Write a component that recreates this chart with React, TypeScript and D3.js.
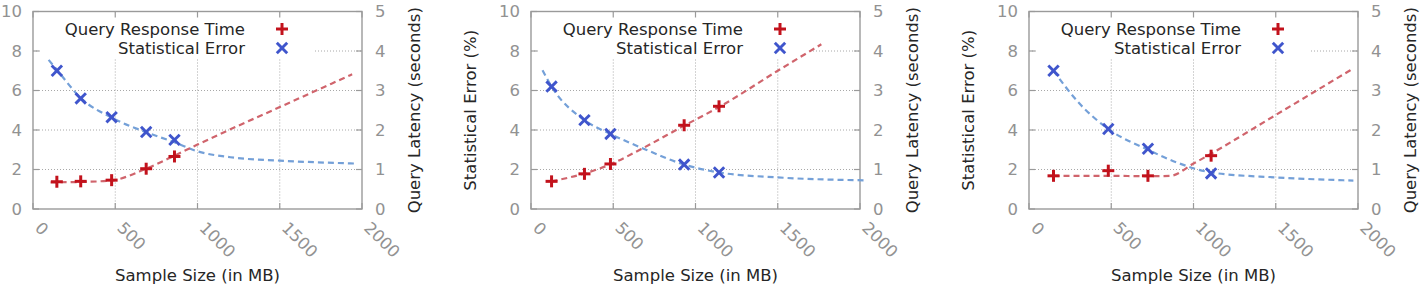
import React from "react";
import * as d3 from "d3";

// ---------- data ----------
const xTicks = [0, 500, 1000, 1500, 2000];
const yLeftTicks = [0, 2, 4, 6, 8, 10];
const yRightTicks = [0, 1, 2, 3, 4, 5];
const gridX = [500, 1000, 1500];
const gridY = [2, 4, 6, 8];

const legendLabels = ["Query Response Time", "Statistical Error"];
const xTitle = "Sample Size (in MB)";
const leftTitle = "Statistical Error (%)";
const rightTitle = "Query Latency (seconds)";

// panel 1
const p1Sizes = [145, 290, 478, 688, 860];
const p1Error = [7.0, 5.6, 4.65, 3.9, 3.5];
const p1Latency = [0.69, 0.7, 0.73, 1.02, 1.33];
const p1ErrFitX = [95, 150, 290, 480, 690, 860, 1000, 1200, 1500, 1970];
const p1ErrFitY = [7.55, 7.0, 5.62, 4.62, 3.88, 3.38, 2.92, 2.62, 2.45, 2.3];
const p1LatFitX = [107, 300, 480, 690, 860, 1000, 1165, 1500, 1940];
const p1LatFitY = [0.675, 0.685, 0.725, 1.025, 1.35, 1.63, 1.95, 2.58, 3.41];

// panel 2
const p2Sizes = [125, 325, 483, 931, 1143];
const p2Error = [6.2, 4.5, 3.8, 2.25, 1.85];
const p2Latency = [0.7, 0.89, 1.14, 2.12, 2.6];
const p2ErrFitX = [70, 125, 325, 483, 700, 931, 1143, 1500, 2030];
const p2ErrFitY = [7.03, 6.2, 4.5, 3.8, 3.0, 2.25, 1.85, 1.6, 1.45];
const p2LatFitX = [125, 325, 483, 671, 931, 1143, 1500, 1765];
const p2LatFitY = [0.7, 0.9, 1.13, 1.52, 2.11, 2.58, 3.5, 4.17];

// panel 3
const p3Sizes = [149, 482, 723, 1107];
const p3Error = [7.0, 4.05, 3.05, 1.8];
const p3Latency = [0.84, 0.97, 0.84, 1.35];
const p3ErrFitX = [149, 300, 482, 723, 900, 1107, 1500, 1972];
const p3ErrFitY = [7.0, 5.4, 4.05, 3.0, 2.35, 1.85, 1.6, 1.44];
const p3LatFitX = [149, 482, 723, 860, 1000, 1107, 1500, 1972];
const p3LatFitY = [0.835, 0.84, 0.83, 0.84, 1.15, 1.4, 2.38, 3.56];

const panels = [
  { sizes: p1Sizes, err: p1Error, lat: p1Latency, efx: p1ErrFitX, efy: p1ErrFitY, lfx: p1LatFitX, lfy: p1LatFitY, showLeftTitle: false },
  { sizes: p2Sizes, err: p2Error, lat: p2Latency, efx: p2ErrFitX, efy: p2ErrFitY, lfx: p2LatFitX, lfy: p2LatFitY, showLeftTitle: true },
  { sizes: p3Sizes, err: p3Error, lat: p3Latency, efx: p3ErrFitX, efy: p3ErrFitY, lfx: p3LatFitX, lfy: p3LatFitY, showLeftTitle: true },
];

// ---------- style ----------
const W = 1420;
const H = 306;
const FONT = "'DejaVu Sans', sans-serif";
const FS = 16.5;
const TICK_COLOR = "#929292";
const TEXT_COLOR = "#262626";
const BORDER = "#9a9a9a";
const GRID = "#a8a8a8";
const RED = "#c2121c";
const RED_LINE = "#d0646c";
const BLUE = "#3f55cc";
const BLUE_LINE = "#74a0d8";

const PLOT_W = 329;
const TOP = 11.5;
const BOTTOM = 209;
const STEP = 498;
const FIRST_LEFT = 33;

function Plus({ x, y }: { x: number; y: number }) {
  const s = 6;
  return (
    <g stroke={RED} strokeWidth={3} strokeLinecap="butt">
      <line x1={x - s} y1={y} x2={x + s} y2={y} />
      <line x1={x} y1={y - s} x2={x} y2={y + s} />
    </g>
  );
}

function Cross({ x, y }: { x: number; y: number }) {
  const s = 5.2;
  return (
    <g stroke={BLUE} strokeWidth={2.9} strokeLinecap="butt">
      <line x1={x - s} y1={y - s} x2={x + s} y2={y + s} />
      <line x1={x - s} y1={y + s} x2={x + s} y2={y - s} />
    </g>
  );
}

function Panel({ idx }: { idx: number }) {
  const p = panels[idx];
  const left = FIRST_LEFT + idx * STEP;
  const right = left + PLOT_W;
  const x = d3.scaleLinear().domain([0, 2000]).range([left, right]);
  const yL = d3.scaleLinear().domain([0, 10]).range([BOTTOM, TOP]);
  const yR = d3.scaleLinear().domain([0, 5]).range([BOTTOM, TOP]);

  const errLine = d3
    .line<number>()
    .x((_, i) => x(p.efx[i]))
    .y((d) => yL(d))
    .curve(d3.curveMonotoneX);
  const latLine = d3
    .line<number>()
    .x((_, i) => x(p.lfx[i]))
    .y((d) => yR(d))
    .curve(d3.curveMonotoneX);

  const tickLen = 6;
  const midY = (TOP + BOTTOM) / 2;

  return (
    <g>
      {/* grid */}
      <g stroke={GRID} strokeWidth={1} strokeDasharray="1,2">
        {gridX.map((v) => (
          <line key={"gx" + v} x1={x(v)} x2={x(v)} y1={TOP} y2={BOTTOM} />
        ))}
        {gridY.map((v) => (
          <line key={"gy" + v} x1={left} x2={right} y1={yL(v)} y2={yL(v)} />
        ))}
      </g>
      {/* legend background */}
      <rect x={left + 7} y={TOP + 1} width={275} height={46} fill="#fff" />
      {/* border */}
      <rect x={left} y={TOP} width={PLOT_W} height={BOTTOM - TOP} fill="none" stroke={BORDER} strokeWidth={1.4} />
      {/* ticks */}
      <g stroke={BORDER} strokeWidth={1.2}>
        {yLeftTicks.map((v) => (
          <line key={"tl" + v} x1={left} x2={left + tickLen} y1={yL(v)} y2={yL(v)} />
        ))}
        {yRightTicks.map((v) => (
          <line key={"tr" + v} x1={right - tickLen} x2={right} y1={yR(v)} y2={yR(v)} />
        ))}
        {xTicks.map((v) => (
          <g key={"tx" + v}>
            <line x1={x(v)} x2={x(v)} y1={BOTTOM} y2={BOTTOM - tickLen} />
            <line x1={x(v)} x2={x(v)} y1={TOP} y2={TOP + tickLen} />
          </g>
        ))}
      </g>
      {/* tick labels */}
      <g fontFamily={FONT} fontSize={FS} fill={TICK_COLOR}>
        {yLeftTicks.map((v) => (
          <text key={"ll" + v} x={left - 11} y={yL(v)} textAnchor="end" dominantBaseline="central">
            {v}
          </text>
        ))}
        {yRightTicks.map((v) => (
          <text key={"lr" + v} x={right + 13} y={yR(v)} textAnchor="start" dominantBaseline="central">
            {v}
          </text>
        ))}
        {xTicks.map((v) => (
          <text
            key={"lx" + v}
            transform={`translate(${x(v) + 5},${BOTTOM + 16}) rotate(45)`}
            textAnchor="start"
            dominantBaseline="central"
          >
            {v}
          </text>
        ))}
      </g>
      {/* titles */}
      <g fontFamily={FONT} fontSize={FS} fill={TEXT_COLOR}>
        <text x={(left + right) / 2} y={281} textAnchor="middle">
          {xTitle}
        </text>
        <text transform={`translate(${right + 52},${midY}) rotate(-90)`} textAnchor="middle" dominantBaseline="central">
          {rightTitle}
        </text>
        {p.showLeftTitle && (
          <text transform={`translate(${left - 61},${midY}) rotate(-90)`} textAnchor="middle" dominantBaseline="central">
            {leftTitle}
          </text>
        )}
      </g>
      {/* fit curves */}
      <path d={errLine(p.efy) || ""} fill="none" stroke={BLUE_LINE} strokeWidth={2.2} strokeDasharray="6,4" />
      <path d={latLine(p.lfy) || ""} fill="none" stroke={RED_LINE} strokeWidth={2.2} strokeDasharray="6,4" />
      {/* points */}
      {p.sizes.map((s, i) => (
        <Plus key={"p" + i} x={x(s)} y={yR(p.lat[i])} />
      ))}
      {p.sizes.map((s, i) => (
        <Cross key={"c" + i} x={x(s)} y={yL(p.err[i])} />
      ))}
      {/* legend */}
      <g fontFamily={FONT} fontSize={FS} fill={TEXT_COLOR}>
        <text x={left + 212} y={29} textAnchor="end" dominantBaseline="central">
          {legendLabels[0]}
        </text>
        <text x={left + 212} y={48} textAnchor="end" dominantBaseline="central">
          {legendLabels[1]}
        </text>
      </g>
      <Plus x={left + 249} y={29} />
      <Cross x={left + 249} y={48} />
    </g>
  );
}

export default function App() {
  return (
    <svg
      width={W}
      height={H}
      viewBox={`0 0 ${W} ${H}`}
      style={{ position: "absolute", left: 0, top: 0, background: "#fff" }}
    >
      <rect x={0} y={0} width={W} height={H} fill="#fff" />
      {panels.map((_, i) => (
        <Panel key={i} idx={i} />
      ))}
    </svg>
  );
}
